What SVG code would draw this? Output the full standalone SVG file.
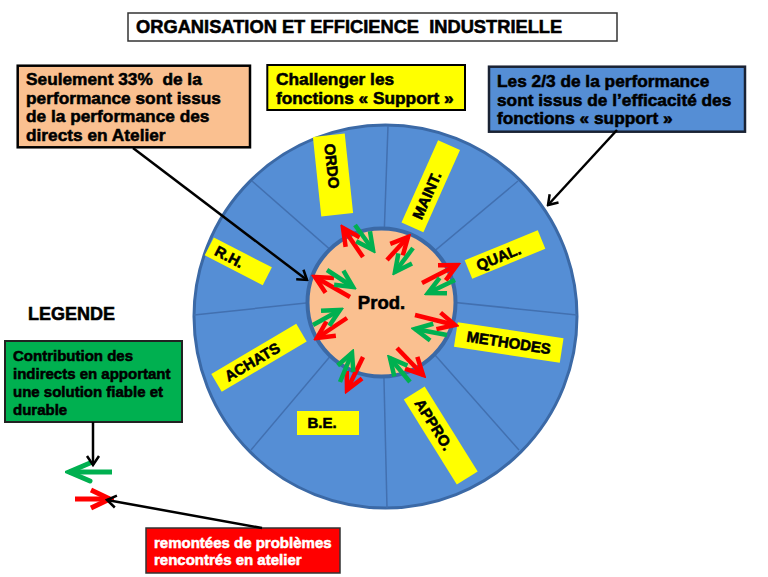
<svg xmlns="http://www.w3.org/2000/svg" width="768" height="577" viewBox="0 0 768 577">
<defs>
<style>
text{font-family:"Liberation Sans",Arial,sans-serif;font-weight:bold;fill:#000;stroke:#000;stroke-width:0.55px}
.wt{fill:#fff;stroke:#fff}
.box{font-size:17.3px}
.sm{font-size:15px}
.lab{font-size:15px}
.ylw{fill:#FFFF00;stroke:none}
.red{stroke:#FF0000;stroke-width:4.5;fill:none}
.grn{stroke:#00B050;stroke-width:4.5;fill:none}
.redL{stroke:#FF0000;stroke-width:5;fill:none}
.grnL{stroke:#00B050;stroke-width:5;fill:none}
.blk{stroke:#000;stroke-width:2.5;fill:none}
.div{stroke:#4270b0;stroke-width:1.5}
</style>
<marker id="hr" markerUnits="userSpaceOnUse" viewBox="-22 -12 26 24" markerWidth="26" markerHeight="24" refX="0" refY="0" orient="auto">
<path d="M-17,-8.5 L0,0 L-17,8.5" fill="none" stroke="#FF0000" stroke-width="4.5"/>
</marker>
<marker id="hg" markerUnits="userSpaceOnUse" viewBox="-22 -12 26 24" markerWidth="26" markerHeight="24" refX="0" refY="0" orient="auto">
<path d="M-17,-8.5 L0,0 L-17,8.5" fill="none" stroke="#00B050" stroke-width="4.5"/>
</marker>
<marker id="hrL" markerUnits="userSpaceOnUse" viewBox="-26 -14 30 28" markerWidth="30" markerHeight="28" refX="0" refY="0" orient="auto">
<path d="M-19,-9 L0,0 L-19,9" fill="none" stroke="#FF0000" stroke-width="5"/>
</marker>
<marker id="hgL" markerUnits="userSpaceOnUse" viewBox="-26 -14 30 28" markerWidth="30" markerHeight="28" refX="0" refY="0" orient="auto">
<path d="M-21,-9 L0,0 L-21,9" fill="none" stroke="#00B050" stroke-width="5" stroke-linecap="round"/>
</marker>
<marker id="hb" markerUnits="userSpaceOnUse" viewBox="-14 -10 16 20" markerWidth="16" markerHeight="20" refX="0" refY="0" orient="auto">
<path d="M-9,-6 L0,0 L-9,6" fill="none" stroke="#000" stroke-width="2.5"/>
</marker>
</defs>
<rect width="768" height="577" fill="#fff"/>

<g id="title">
<rect x="128" y="13" width="489" height="28" fill="#fff" stroke="#333" stroke-width="1.5"/>
<text x="136" y="33" style="font-size:18.3px" xml:space="preserve">ORGANISATION ET EFFICIENCE  INDUSTRIELLE</text>
</g>

<g id="wheel">
<circle cx="385.5" cy="316.5" r="191.5" fill="#558ED5" stroke="#3B69A6" stroke-width="3"/>
<g class="div">
<line x1="388" y1="126" x2="382" y2="295"/>
<line x1="518" y1="181" x2="382" y2="295"/>
<line x1="577" y1="315" x2="382" y2="295"/>
<line x1="519" y1="450" x2="382" y2="295"/>
<line x1="387" y1="508" x2="382" y2="295"/>
<line x1="251" y1="450" x2="382" y2="295"/>
<line x1="194" y1="315" x2="382" y2="295"/>
<line x1="252" y1="181" x2="382" y2="295"/>
</g>
</g>

<g id="prod">
<circle cx="381.5" cy="302.5" r="74" fill="#FAC090" stroke="#3B69A6" stroke-width="4"/>
<text x="381.5" y="309.3" text-anchor="middle" style="font-size:18.5px">Prod.</text>
</g>

<g id="ordo" transform="translate(333,175) rotate(84)">
<rect class="ylw" x="-40" y="-16" width="80" height="32"/>
<text class="lab" x="-9" y="5.4" text-anchor="middle">ORDO</text>
</g>
<g id="maint" transform="translate(430.75,186.25) rotate(-66)">
<rect class="ylw" x="-45" y="-12" width="90" height="24"/>
<text class="lab" x="-10" y="5.4" text-anchor="middle">MAINT.</text>
</g>
<g id="qual" transform="translate(505,254.5) rotate(-22.3)">
<rect class="ylw" x="-39.5" y="-10" width="79" height="20"/>
<text class="lab" x="-7" y="5.4" text-anchor="middle">QUAL.</text>
</g>
<g id="methodes" transform="translate(508.75,342.5) rotate(8.6)">
<rect class="ylw" x="-53.5" y="-12.5" width="107" height="25"/>
<text class="lab" x="0" y="5.4" text-anchor="middle">METHODES</text>
</g>
<g id="appro" transform="translate(440.75,435.5) rotate(58)">
<rect class="ylw" x="-50" y="-12.3" width="100" height="24.6"/>
<text class="lab" x="-13" y="5.4" text-anchor="middle">APPRO.</text>
</g>
<g id="be" transform="translate(328,423)">
<rect class="ylw" x="-31" y="-12" width="62" height="24"/>
<text class="lab" x="-6" y="5.4" text-anchor="middle">B.E.</text>
</g>
<g id="achats" transform="translate(259,357.75) rotate(-30.5)">
<rect class="ylw" x="-49.3" y="-10.3" width="98.6" height="20.6"/>
<text class="lab" x="-8" y="5.4" text-anchor="middle">ACHATS</text>
</g>
<g id="rh" transform="translate(238.25,261.25) rotate(27.3)">
<rect class="ylw" x="-32.6" y="-10" width="65.3" height="20"/>
<text class="lab" x="-10" y="5.4" text-anchor="middle">R.H.</text>
</g>

<g id="note-directs">
<rect x="17.7" y="65.7" width="232.3" height="81.6" fill="#FAC090" stroke="#000" stroke-width="2.5"/>
<text class="box" x="26" y="85" xml:space="preserve">Seulement 33%  de la</text>
<text class="box" x="26" y="103.5">performance sont issus</text>
<text class="box" x="26" y="122">de la performance des</text>
<text class="box" x="26" y="140.5">directs en Atelier</text>
</g>

<g id="note-challenger">
<rect x="267.3" y="65" width="197.7" height="45" fill="#FFFF00" stroke="#000" stroke-width="2"/>
<text class="box" x="276" y="85">Challenger les</text>
<text class="box" x="276" y="103.5">fonctions « Support »</text>
</g>

<g id="note-support">
<rect x="489" y="66.7" width="256" height="65" fill="#558ED5" stroke="#1a2233" stroke-width="2.5"/>
<text class="box" x="497" y="87">Les 2/3 de la performance</text>
<text class="box" x="497" y="105.5">sont issus de l’efficacité des</text>
<text class="box" x="497" y="124">fonctions « support »</text>
</g>

<g id="legende">
<text x="28" y="319.5" style="font-size:18px">LEGENDE</text>
</g>

<g id="legend-green">
<rect x="5" y="341" width="177" height="81" fill="#00B050" stroke="#222" stroke-width="2"/>
<text class="sm" x="13" y="360.5">Contribution des</text>
<text class="sm" x="13" y="378.5">indirects en apportant</text>
<text class="sm" x="13" y="396.5">une solution fiable et</text>
<text class="sm" x="13" y="414.5">durable</text>
</g>

<g id="legend-red">
<rect x="146" y="528" width="194" height="45" fill="#FF0000" stroke="#333" stroke-width="1.5"/>
<text class="sm wt" x="154" y="547.5">remontées de problèmes</text>
<text class="sm wt" x="154" y="564.5">rencontrés en atelier</text>
</g>

<g id="connectors">
<line class="blk" x1="133" y1="148" x2="307" y2="280" marker-end="url(#hb)"/>
<line class="blk" x1="617" y1="130" x2="548" y2="205" marker-end="url(#hb)"/>

<line class="grnL" x1="112" y1="472" x2="69" y2="472" marker-end="url(#hgL)"/>
<line class="redL" x1="75" y1="499" x2="110" y2="499" marker-end="url(#hrL)"/>

<line class="blk" x1="93" y1="422" x2="93" y2="465" marker-end="url(#hb)"/>
<line class="blk" x1="262" y1="528" x2="107" y2="500" marker-end="url(#hb)"/>

<line class="red" x1="363" y1="257" x2="343" y2="228" marker-end="url(#hr)"/>
<line class="grn" x1="355" y1="225" x2="373" y2="250" marker-end="url(#hg)"/>
<line class="red" x1="387" y1="260" x2="408" y2="237" marker-end="url(#hr)"/>
<line class="grn" x1="413" y1="248" x2="395" y2="272" marker-end="url(#hg)"/>
<line class="red" x1="422" y1="283" x2="457" y2="265" marker-end="url(#hr)"/>
<line class="grn" x1="455" y1="280" x2="428" y2="293" marker-end="url(#hg)"/>
<line class="red" x1="415" y1="315" x2="455" y2="325" marker-end="url(#hr)"/>
<line class="grn" x1="447" y1="335" x2="415" y2="329" marker-end="url(#hg)"/>
<line class="red" x1="397" y1="348" x2="423" y2="375" marker-end="url(#hr)"/>
<line class="grn" x1="410" y1="382" x2="390" y2="358" marker-end="url(#hg)"/>
<line class="red" x1="363" y1="357" x2="347" y2="390" marker-end="url(#hr)"/>
<line class="grn" x1="340" y1="382" x2="352" y2="353" marker-end="url(#hg)"/>
<line class="red" x1="347" y1="318" x2="317" y2="338" marker-end="url(#hr)"/>
<line class="grn" x1="313" y1="325" x2="340" y2="310" marker-end="url(#hg)"/>
<line class="red" x1="350" y1="297" x2="315" y2="277" marker-end="url(#hr)"/>
<line class="grn" x1="327" y1="270" x2="353" y2="287" marker-end="url(#hg)"/>
</g>
</svg>
